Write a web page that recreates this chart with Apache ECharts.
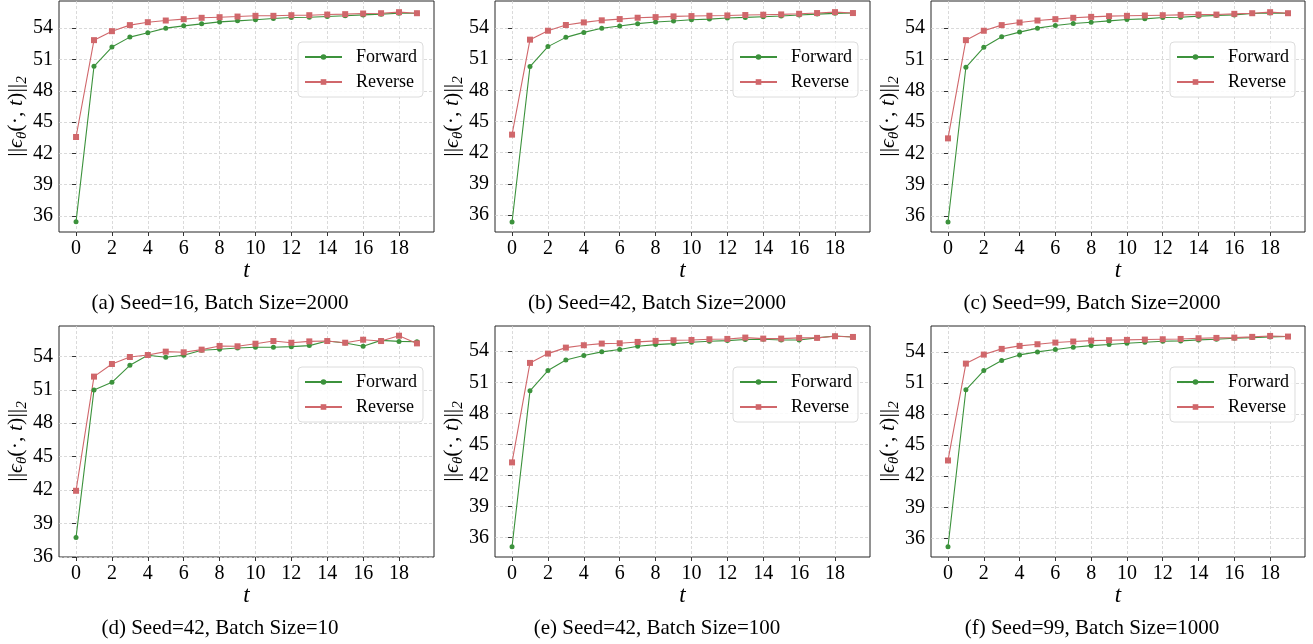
<!DOCTYPE html>
<html>
<head>
<meta charset="utf-8">
<script src="https://cdn.jsdelivr.net/npm/echarts@6/dist/echarts.min.js"></script>
<style>
	html, body { margin: 0; padding: 0; background: #fff; }
	#main { width: 1313px; height: 644px; }
</style>
</head>
<body>
<div id="main"></div>
<script>
var steps = [0, 1, 2, 3, 4, 5, 6, 7, 8, 9, 10, 11, 12, 13, 14, 15, 16, 17, 18, 19];
var xTicks = [0, 2, 4, 6, 8, 10, 12, 14, 16, 18];
var yTicks = [36, 39, 42, 45, 48, 51, 54];

// (a) Seed=16, Batch Size=2000
var forwardA = [35.46, 50.34, 52.19, 53.14, 53.55, 54.0, 54.22, 54.41, 54.6, 54.7, 54.8, 54.92, 55.02, 55.05, 55.11, 55.18, 55.27, 55.34, 55.43, 55.43];
var reverseA = [43.57, 52.85, 53.71, 54.29, 54.57, 54.73, 54.86, 54.99, 55.05, 55.11, 55.18, 55.18, 55.24, 55.24, 55.3, 55.34, 55.4, 55.43, 55.53, 55.43];
// (b) Seed=42, Batch Size=2000
var forwardB = [35.33, 50.29, 52.21, 53.1, 53.58, 53.97, 54.19, 54.42, 54.58, 54.67, 54.8, 54.86, 54.96, 55.02, 55.09, 55.15, 55.25, 55.34, 55.41, 55.44];
var reverseB = [43.74, 52.88, 53.74, 54.29, 54.54, 54.74, 54.86, 54.99, 55.05, 55.12, 55.15, 55.18, 55.21, 55.25, 55.28, 55.31, 55.37, 55.44, 55.53, 55.44];
// (c) Seed=99, Batch Size=2000
var forwardC = [35.43, 50.25, 52.16, 53.17, 53.62, 54.0, 54.25, 54.45, 54.57, 54.7, 54.83, 54.89, 55.02, 55.05, 55.15, 55.21, 55.27, 55.4, 55.46, 55.43];
var reverseC = [43.44, 52.85, 53.75, 54.29, 54.54, 54.73, 54.86, 54.99, 55.08, 55.15, 55.18, 55.21, 55.24, 55.27, 55.3, 55.3, 55.37, 55.43, 55.53, 55.43];
// (d) Seed=42, Batch Size=10
var forwardD = [37.76, 50.99, 51.67, 53.19, 54.09, 53.91, 54.09, 54.54, 54.63, 54.75, 54.81, 54.81, 54.87, 54.96, 55.37, 55.19, 54.9, 55.43, 55.34, 55.31];
var reverseD = [41.94, 52.18, 53.31, 53.94, 54.12, 54.42, 54.36, 54.6, 54.93, 54.9, 55.13, 55.37, 55.22, 55.34, 55.37, 55.22, 55.49, 55.37, 55.85, 55.16];
// (e) Seed=42, Batch Size=100
var forwardE = [35.1, 50.17, 52.13, 53.16, 53.58, 53.94, 54.16, 54.48, 54.64, 54.74, 54.87, 54.97, 55.03, 55.13, 55.16, 55.09, 55.09, 55.29, 55.48, 55.38];
var reverseE = [43.25, 52.87, 53.77, 54.35, 54.58, 54.74, 54.77, 54.9, 55.0, 55.06, 55.09, 55.16, 55.19, 55.32, 55.22, 55.22, 55.29, 55.29, 55.45, 55.38];
// (f) Seed=99, Batch Size=1000
var forwardF = [35.2, 50.34, 52.2, 53.16, 53.71, 54.0, 54.23, 54.45, 54.61, 54.71, 54.84, 54.93, 55.03, 55.06, 55.16, 55.22, 55.32, 55.38, 55.45, 55.48];
var reverseF = [43.52, 52.87, 53.74, 54.29, 54.58, 54.74, 54.9, 55.0, 55.09, 55.13, 55.16, 55.19, 55.22, 55.25, 55.32, 55.35, 55.38, 55.45, 55.54, 55.48];

var forwardAll = [forwardA, forwardB, forwardC, forwardD, forwardE, forwardF];
var reverseAll = [reverseA, reverseB, reverseC, reverseD, reverseE, reverseF];
var yMins = [34.47, 34.37, 34.47, 36, 34.1, 34.2];
var yMaxs = [56.6, 56.6, 56.6, 56.72, 56.44, 56.5];
var captions = ['(a) Seed=16, Batch Size=2000', '(b) Seed=42, Batch Size=2000', '(c) Seed=99, Batch Size=2000',
	'(d) Seed=42, Batch Size=10', '(e) Seed=42, Batch Size=100', '(f) Seed=99, Batch Size=1000'];

var serif = 'Liberation Serif';
var green = '#3c923c';
var red = '#d0676b';

// layout of the 2x3 panels
var colLeft = [59, 495, 931];
var colRight = [879, 443, 8];
var rowTop = [1, 326];
var rowHeight = [231, 231];
var captionX = [220, 657, 1092];
var captionY = [303, 628];

function toPoints(arr) {
	return steps.map(function (t, i) { return [t, arr[i]]; });
}

var grids = [], xAxes = [], yAxes = [], series = [], legends = [], texts = [];

for (var k = 0; k < 6; k++) {
	var r = Math.floor(k / 3), c = k % 3;
	grids.push({
		left : colLeft[c],
		right : colRight[c],
		top : rowTop[r],
		height : rowHeight[r],
		show : true,
		borderColor : '#262626',
		borderWidth : 1,
		backgroundColor : '#fff'
	});
	xAxes.push({
		type : 'value',
		gridIndex : k,
		min : -0.95,
		max : 19.95,
		name : 't',
		nameLocation : 'middle',
		nameGap : 27,
		nameTextStyle : { fontFamily : serif, fontStyle : 'italic', fontSize : 23, color : '#000' },
		axisLine : { show : false },
		axisTick : { show : true, inside : false, length : 4, customValues : xTicks, lineStyle : { color : '#333' } },
		axisLabel : { customValues : xTicks, fontFamily : serif, fontSize : 20, color : '#000', margin : 7 },
		splitLine : { show : true, lineStyle : { color : '#d0d0d0', type : [3, 2], width : 0.8 } }
	});
	yAxes.push({
		type : 'value',
		gridIndex : k,
		min : yMins[k],
		max : yMaxs[k],
		name : '{n|||}{i|ϵ}{s|θ}{n|(·, }{i|t}{n|)||}{s|2}',
		nameLocation : 'middle',
		nameGap : 29,
		nameTextStyle : {
			rich : {
				n : { fontFamily : serif, fontSize : 22, color : '#000', lineHeight : 26 },
				i : { fontFamily : serif, fontSize : 22, fontStyle : 'italic', color : '#000', lineHeight : 26 },
				s : { fontFamily : serif, fontSize : 15, fontStyle : 'italic', color : '#000', lineHeight : 14, verticalAlign : 'bottom' }
			}
		},
		axisLine : { show : false },
		axisTick : { show : true, inside : false, length : 4, customValues : yTicks, lineStyle : { color : '#333' } },
		axisLabel : { customValues : yTicks, fontFamily : serif, fontSize : 20, color : '#000', margin : 6 },
		splitLine : { show : true, lineStyle : { color : '#d0d0d0', type : [3, 2], width : 0.8 } }
	});
	series.push({
		name : 'Forward',
		type : 'line',
		xAxisIndex : k,
		yAxisIndex : k,
		data : toPoints(forwardAll[k]),
		symbol : 'circle',
		symbolSize : 5,
		lineStyle : { color : green, width : 1.1 },
		itemStyle : { color : green },
		emphasis : { disabled : true },
		animation : false
	});
	series.push({
		name : 'Reverse',
		type : 'line',
		xAxisIndex : k,
		yAxisIndex : k,
		data : toPoints(reverseAll[k]),
		symbol : 'rect',
		symbolSize : 6,
		lineStyle : { color : red, width : 1.1 },
		itemStyle : { color : red },
		emphasis : { disabled : true },
		animation : false
	});
	legends.push({
		data : ['Forward', 'Reverse'],
		orient : 'vertical',
		left : colLeft[c] + (k % 3 === 1 ? 238 : 239),
		top : rowTop[r] + 41,
		itemWidth : 37,
		itemHeight : 7,
		itemGap : 7,
		padding : [6, 6, 6, 6],
		backgroundColor : 'rgba(255,255,255,0.85)',
		borderColor : '#dcdcdc',
		borderWidth : 1,
		borderRadius : 4,
		selectedMode : false,
		textStyle : { fontFamily : serif, fontSize : 18, color : '#000', padding : [0, 0, 0, 9] }
	});
	texts.push({
		type : 'text',
		x : captionX[c],
		y : captionY[r],
		style : {
			text : captions[k],
			fontFamily : serif,
			fontSize : 21,
			fill : '#000',
			textAlign : 'center',
			textVerticalAlign : 'middle'
		}
	});
}

var option = {
	backgroundColor : '#fff',
	animation : false,
	grid : grids,
	xAxis : xAxes,
	yAxis : yAxes,
	legend : legends,
	series : series,
	graphic : texts
};

var myChart = echarts.init(document.getElementById('main'));
myChart.setOption(option);
</script>
</body>
</html>
